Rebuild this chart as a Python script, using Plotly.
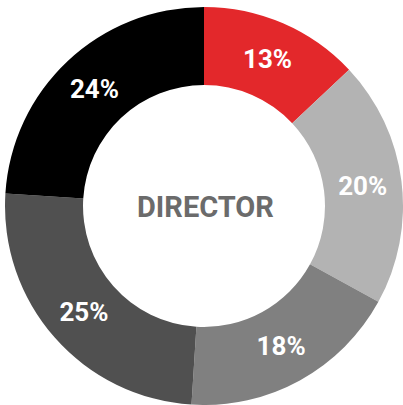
import plotly.graph_objects as go

labels = ["A", "B", "C", "D", "E"]
values = [13, 20, 18, 25, 24]
colors = ["#e3282b", "#b3b3b3", "#808080", "#505050", "#000000"]
center_label = "DIRECTOR"

fig = go.Figure(go.Pie(
    labels=labels,
    values=values,
    hole=0.608,
    sort=False,
    direction="clockwise",
    rotation=0,
    marker=dict(colors=colors, line=dict(width=0)),
    textinfo="percent",
    texttemplate="%{value}%",
    textposition="inside",
    insidetextorientation="horizontal",
    textfont=dict(family="Roboto", size=26, color="white", weight="bold"),
    hoverinfo="skip",
    domain=dict(x=[5/403, 1.0], y=[0, 398/405]),
))

fig.add_annotation(
    x=205/403, y=(405-207)/405, xref="paper", yref="paper",
    text=center_label, showarrow=False,
    font=dict(family="Roboto", size=29, color="#6b6b6b", weight="bold"),
)

fig.update_layout(
    width=403, height=405,
    margin=dict(l=0, r=0, t=0, b=0),
    paper_bgcolor="white", plot_bgcolor="white",
    showlegend=False,
)

fig.write_html(
    "out.html",
    config={"displayModeBar": False},
    post_script="document.body.style.margin='0';document.body.style.overflow='hidden';",
)
